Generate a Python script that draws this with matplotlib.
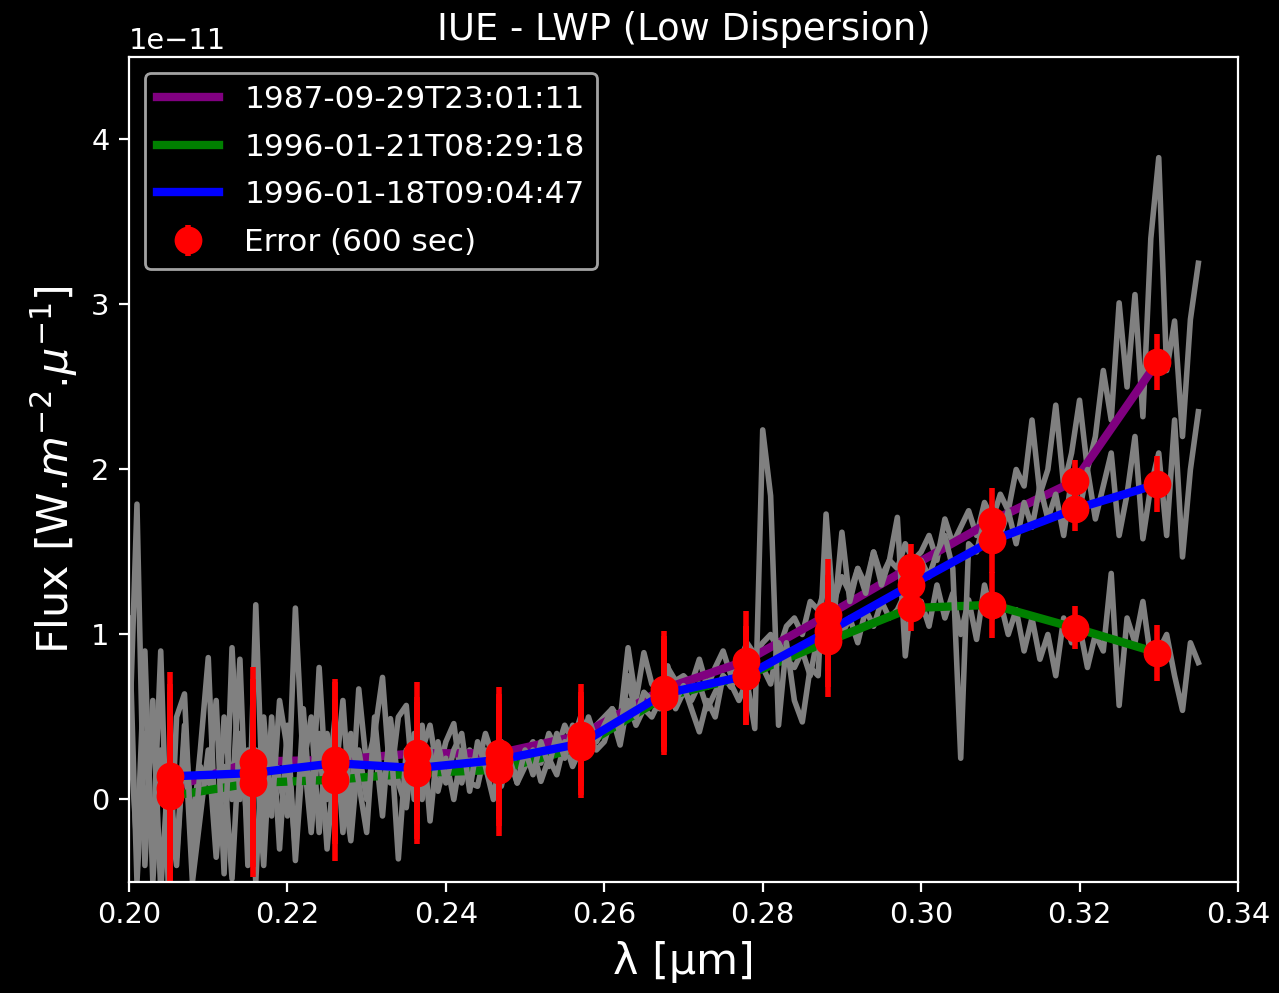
import numpy as np
import matplotlib
matplotlib.use("Agg")
from matplotlib import pyplot as plt

# --- datos (flux em unidades de 1e-11) ---
labels = ["1987-09-29T23:01:11", "1996-01-21T08:29:18", "1996-01-18T09:04:47"]
cores = ["purple", "green", "blue"]

# espectros IUE (passo de 0.001 um, de 0.200 a 0.335)
espectro_1987 = [0.3, 1.79, -0.4, 0.6, -0.55, 0.2, -0.35, 0.45, -0.2, 0.3,
                 0.86, -0.3, 0.5, 0.0, 0.85, -0.4, 1.18, -0.2, 0.4, 0.1,
                 -0.1, 1.16, 0.2, 0.5, -0.2, 0.4, 0.1, 0.6, -0.1, 0.67,
                 0.2, 0.4, 0.74, 0.1, 0.5, 0.57, 0.0, 0.3, 0.45, 0.15,
                 0.35, 0.46, 0.1, 0.3, 0.2, 0.4, 0.25, 0.35, 0.15, 0.3,
                 0.28, 0.35, 0.22, 0.4, 0.3, 0.45, 0.35, 0.5, 0.38, 0.45,
                 0.5, 0.55, 0.48, 0.92, 0.6, 0.89, 0.7, 0.65, 0.8, 0.72,
                 0.75, 0.7, 0.85, 0.68, 0.8, 0.9, 0.75, 0.82, 0.95, 0.88,
                 0.95, 1.0, 0.9, 1.05, 1.1, 1.0, 1.2, 1.15, 1.3, 1.2,
                 1.35, 1.25, 1.4, 1.3, 1.5, 1.35, 1.45, 1.4, 1.55, 1.45,
                 1.5, 1.6, 1.45, 1.7, 1.55, 1.65, 1.75, 1.6, 1.8, 1.7,
                 1.85, 1.75, 2.0, 1.9, 2.3, 1.85, 2.0, 2.39, 1.9, 2.1,
                 2.42, 2.0, 2.2, 2.6, 2.3, 3.01, 2.5, 3.06, 2.32, 3.4,
                 3.89, 2.6, 2.9, 2.2, 2.91, 3.25]
espectro_1996_21 = [0.5, -0.3, 0.9, -0.5, 0.3, 0.0, -0.4, 0.4, -0.5, -0.1,
                    0.3, -0.35, 0.2, -0.48, 0.4, -0.2, 0.3, -0.4, 0.5, -0.3,
                    0.45, -0.37, 0.3, -0.2, 0.4, -0.3, 0.25, 0.1, -0.25, 0.3,
                    0.0, 0.35, -0.1, 0.49, 0.1, -0.05, 0.4, 0.0, 0.3, 0.05,
                    0.25, 0.0, 0.3, 0.1, 0.08, 0.3, 0.15, 0.08, 0.3, 0.1,
                    0.2, 0.3, 0.11, 0.25, 0.15, 0.35, 0.2, 0.31, 0.4, 0.3,
                    0.35, 0.5, 0.33, 0.6, 0.45, 0.55, 0.5, 0.6, 0.7, 0.55,
                    0.65, 0.6, 0.7, 0.55, 0.65, 0.75, 0.68, 0.8, 0.7, 0.75,
                    0.8, 0.7, 0.95, 0.85, 0.8, 0.9, 0.75, 1.0, 0.95, 1.05,
                    1.0, 1.1, 0.95, 1.15, 1.05, 1.2, 1.1, 1.15, 1.25, 1.1,
                    1.2, 1.05, 1.3, 1.1, 1.25, 1.0, 1.21, 0.97, 1.3, 1.1,
                    1.2, 1.0, 1.15, 0.9, 1.1, 0.85, 1.0, 0.75, 1.1, 0.95,
                    1.05, 0.8, 1.0, 0.9, 1.37, 0.57, 1.1, 0.95, 1.2, 0.85,
                    0.9, 1.0, 0.75, 0.54, 0.95, 0.83]
espectro_1996_18 = [1.1, -0.5, 0.4, -0.3, 0.9, -0.6, 0.5, 0.64, -0.4, 0.2,
                    0.1, 0.6, -0.45, 0.92, 0.0, 0.3, -0.5, 0.5, -0.1, 0.6,
                    0.3, -0.3, 0.55, -0.1, 0.8, 0.0, 0.5, -0.2, 0.4, 0.1,
                    -0.2, 0.5, 0.0, 0.4, -0.36, 0.3, 0.2, 0.45, -0.13, 0.35,
                    0.1, 0.3, 0.4, 0.05, 0.35, 0.2, 0.0, 0.3, 0.25, 0.1,
                    0.3, 0.15, 0.35, 0.2, 0.4, 0.25, 0.45, 0.3, 0.5, 0.35,
                    0.45, 0.55, 0.4, 0.75, 0.5, 0.65, 0.6, 0.55, 0.81, 0.6,
                    0.69, 0.55, 0.41, 0.6, 0.5, 0.75, 0.7, 0.6, 0.72, 0.43,
                    2.24, 1.84, 0.45, 0.95, 0.6, 0.47, 0.8, 0.75, 1.73, 1.1,
                    1.62, 1.2, 1.4, 1.25, 1.5, 1.3, 1.45, 1.71, 0.87, 1.3,
                    1.45, 1.35, 1.5, 1.6, 1.4, 0.25, 1.55, 1.5, 1.7, 1.55,
                    1.6, 1.75, 1.55, 1.8, 1.65, 1.9, 1.7, 1.85, 1.6, 1.95,
                    1.75, 2.0, 1.7, 1.9, 2.1, 1.6, 1.85, 2.2, 1.58, 1.9,
                    2.1, 1.6, 2.3, 1.47, 2.0, 2.35]

# media por bin
lam_bins = [0.2052, 0.2156, 0.2260, 0.2363, 0.2467, 0.2571, 0.2675,
            0.2779, 0.2883, 0.2987, 0.3090, 0.3194, 0.3298]
bin_1987 = [0.07, 0.23, 0.24, 0.28, 0.28, 0.39, 0.67, 0.84, 1.12, 1.41, 1.69, 1.93, 2.65]
bin_1996_21 = [0.02, 0.10, 0.12, 0.16, 0.18, 0.32, 0.62, 0.75, 0.96, 1.16, 1.18, 1.04, 0.89]
bin_1996_18 = [0.14, 0.16, 0.22, 0.19, 0.24, 0.34, 0.64, 0.75, 1.02, 1.30, 1.57, 1.76, 1.91]
erro = [0.63, 0.57, 0.49, 0.43, 0.40, 0.31, 0.35, 0.30, 0.34, 0.14, 0.20, 0.13, 0.17]

lam = np.linspace(0.200, 0.335, len(espectro_1987))
espectros = [espectro_1987, espectro_1996_21, espectro_1996_18]
bins = [bin_1987, bin_1996_21, bin_1996_18]

plt.style.use("dark_background")
fig = plt.figure(figsize=(6.395, 4.965), dpi=200)
ax = fig.add_axes([0.1009, 0.1118, 0.867, 0.8308])

for esp, b, cor, lab in zip(espectros, bins, cores, labels):
    ax.plot(lam, np.array(esp) * 1e-11, color="gray", lw=2)
    ax.plot(lam_bins, np.array(b) * 1e-11, color=cor, lw=3, label=lab)

for i, b in enumerate(bins):
    ax.errorbar(lam_bins, np.array(b) * 1e-11, yerr=np.array(erro) * 1e-11,
                fmt="o", color="red", markersize=9, elinewidth=2,
                label="Error (600 sec)" if i == 0 else None)

ax.set_xlim(0.20, 0.34)
ax.set_ylim(-0.5e-11, 4.5e-11)
ax.tick_params(labelsize=10.4)
ax.yaxis.get_offset_text().set_fontsize(10.4)
ax.set_title("IUE - LWP (Low Dispersion)", fontsize=13.3)
ax.set_xlabel("λ [μm]", fontsize=15.5)
ax.set_ylabel(r"Flux [W.$m^{-2}$.$\mu^{-1}$]", fontsize=15.5)
ax.legend(loc="upper left", fontsize=11.2, labelspacing=0.6)

fig.savefig("out.png", dpi=200)
